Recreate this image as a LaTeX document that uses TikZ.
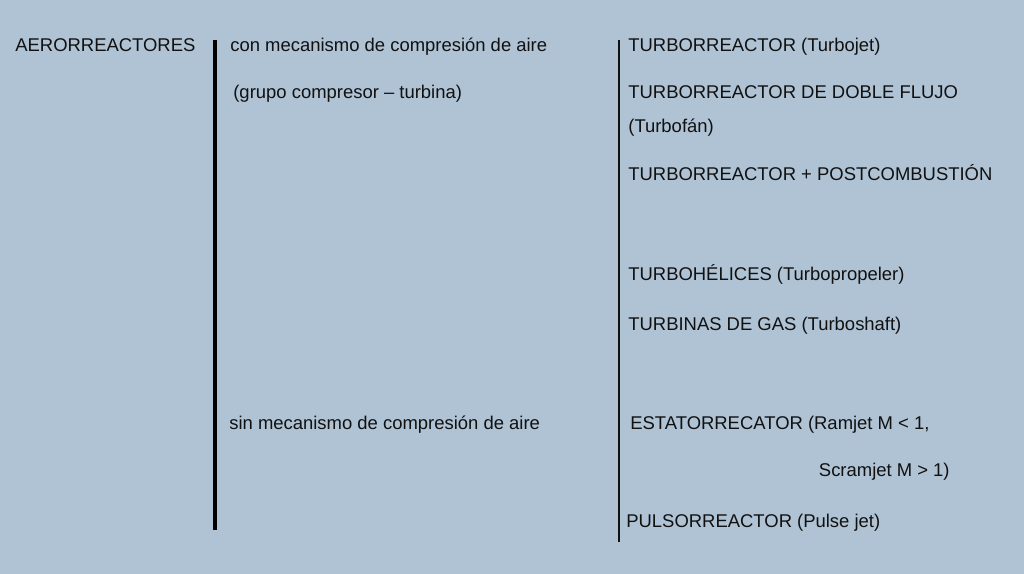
\documentclass[tikz,border=0pt]{standalone}
\usepackage{fontspec}
\setmainfont{Liberation Sans}
\usepackage{xcolor}
\usepackage{tikz}
\usetikzlibrary{positioning}

\definecolor{fondo}{RGB}{175,195,213}
\definecolor{tinta}{RGB}{17,17,17}

\begin{document}
\begin{tikzpicture}[x=0.02cm, y=-0.02cm,
    txt/.style={anchor=west, inner sep=0pt, text=tinta, text height=0.716em, text depth=0pt,
                font=\fontsize{10.5}{12.6}\selectfont}]
    % Fondo y marco de la imagen
    \fill[fondo] (0,0) rectangle (1024,574);
    \useasboundingbox (0,0) rectangle (1024,574);

    % 1. Separadores verticales
    \draw[line width=4*0.02cm] (215,40) -- (215,530);
    \draw[line width=1.4*0.02cm, tinta] (619,40) -- (619,542);

    % 2. Columna izquierda
    \node[txt] (aero) at (15,45) {AERORREACTORES};

    % 3. Columna central
    \node[txt] (con) at (230,45) {con mecanismo de compresión de aire};
    \node[txt] (grupo) at (233,92) {(grupo compresor – turbina)};
    \node[txt] (sin) at (229,423) {sin mecanismo de compresión de aire};

    % 4. Columna derecha: con compresión
    \node[txt] (turbojet) at (628,45) {TURBORREACTOR (Turbojet)};
    \node[txt] (doble) at (628,92) {TURBORREACTOR DE DOBLE FLUJO};
    \node[txt] (turbofan) at (628,126) {(Turbofán)};
    \node[txt] (postcomb) at (628,174) {TURBORREACTOR + POSTCOMBUSTIÓN};
    \node[txt] (helices) at (628,274) {TURBOHÉLICES (Turbopropeler)};
    \node[txt] (gas) at (628,324) {TURBINAS DE GAS (Turboshaft)};

    % 5. Columna derecha: sin compresión
    \node[txt] (estato) at (630,423) {ESTATORRECATOR (Ramjet M < 1,};
    \node[txt, anchor=east] (scram) at (950,470) {Scramjet M > 1)};
    \node[txt] (pulso) at (626,521) {PULSORREACTOR (Pulse jet)};
\end{tikzpicture}
\end{document}
